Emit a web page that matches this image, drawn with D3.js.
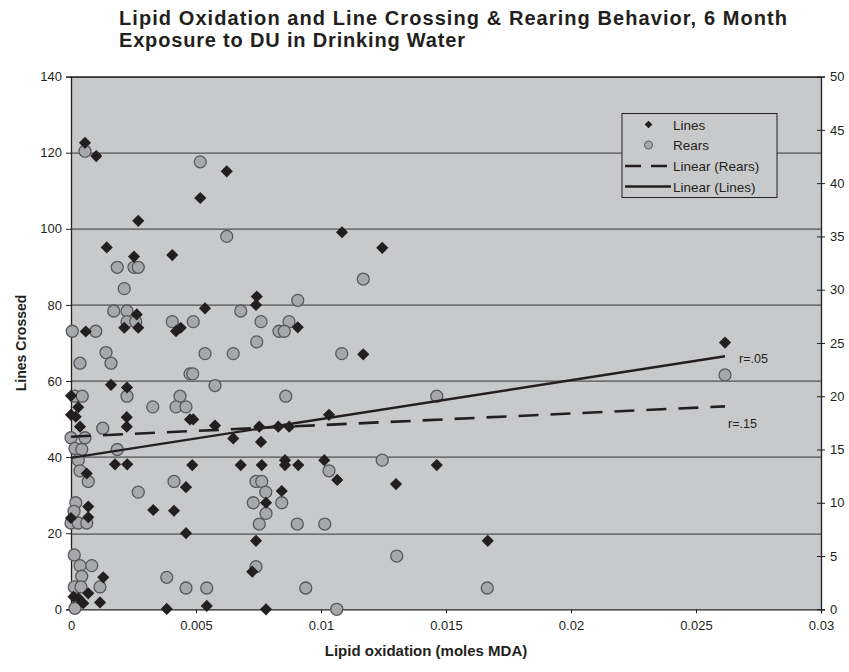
<!DOCTYPE html>
<html>
<head>
<meta charset="utf-8">
<script src="https://cdn.jsdelivr.net/npm/d3@7"></script>
<style>
  body { margin: 0; background: #fff; }
  text { font-family: "Liberation Sans", Arial, sans-serif; fill: #231f20; }
</style>
</head>
<body>
<div id="scatter"></div>
<script>
// LIPID OXIDATION vs LINES / REARS SCATTER

// 1. Data
// Lines crossed (left axis)
var linesX = [0.00056, 0.00101, 0.00269, 0.00143, 0.00252, 0.00263, 0.00213, 0.00269, 0.00059, 0.0016,
  0.00224, 0, 0.00029, 0, 0.00019, 0.00223, 0.00036, 0.00223, 0.00176, 0.00225,
  0.00063, 0.00069, 0.00329, 0.00069, 0, 0.00129, 0.00069, 0.0001, 0.0003, 0.00116,
  0.00049, 0.00383, 0.00623, 0.00517, 0.00405, 0.00743, 0.0074, 0.00536, 0.0042, 0.00439,
  0.00907, 0.00476, 0.00489, 0.00576, 0.00753, 0.00829, 0.00873, 0.00649, 0.0076, 0.00485,
  0.00679, 0.00763, 0.00856, 0.00856, 0.00909, 0.0046, 0.00843, 0.0078, 0.00412, 0.0046,
  0.0074, 0.00725, 0.00543, 0.0078, 0.01084, 0.01245, 0.01169, 0.01032, 0.01013, 0.01065,
  0.013, 0.01463, 0.01667, 0.02616];
var linesY = [122.6, 119.1, 102.1, 95.1, 92.7, 77.5, 74.0, 74.0, 73.0, 59.0,
  58.3, 56.1, 53.1, 51.1, 50.6, 50.5, 48.0, 48.0, 38.1, 38.1,
  35.7, 27.0, 26.1, 24.2, 24.0, 8.4, 4.2, 3.3, 2.9, 1.8,
  1.6, 0.1, 115.1, 108.1, 93.1, 82.2, 80.0, 79.1, 73.1, 74.0,
  74.1, 49.9, 49.9, 48.3, 48.0, 48.0, 48.0, 44.9, 44.0, 37.9,
  37.9, 37.9, 39.2, 37.9, 37.9, 32.1, 31.1, 28.0, 25.9, 20.0,
  18.0, 9.9, 0.9, 0, 99.1, 95.0, 67.0, 51.1, 39.2, 34.0,
  32.9, 37.9, 18.0, 70.1];

// Rears (right axis)
var rearsX = [0.00056, 0.00185, 0.00252, 0.00269, 0.00213, 0.00171, 0.00224, 0.00224, 0.00259, 0.00005,
  0.00099, 0.0014, 0.00036, 0.0016, 0.00224, 0.00016, 0.00045, 0.00327, 0.00127, 0,
  0.00056, 0.00185, 0.00016, 0.00043, 0.00029, 0.00036, 0.00069, 0.00269, 0.00019, 0.00012,
  0, 0.00029, 0.00063, 0.00013, 0.00036, 0.00083, 0.00043, 0.00013, 0.0004, 0.00116,
  0.00016, 0.00517, 0.00623, 0.00907, 0.00679, 0.00405, 0.00489, 0.0076, 0.00872, 0.00832,
  0.00853, 0.00743, 0.00536, 0.00649, 0.00476, 0.00487, 0.00576, 0.00859, 0.00436, 0.0042,
  0.0046, 0.00412, 0.0074, 0.00763, 0.00779, 0.00729, 0.00843, 0.0078, 0.00753, 0.00905,
  0.0074, 0.00383, 0.0046, 0.00543, 0.00939, 0.01169, 0.01083, 0.01463, 0.01245, 0.01032,
  0.01015, 0.01303, 0.01063, 0.01665, 0.02616];
var rearsY = [43.0, 32.1, 32.1, 32.1, 30.1, 28.0, 28.0, 27.0, 27.0, 26.1,
  26.1, 24.1, 23.1, 23.1, 20.0, 20.0, 20.0, 19.0, 17.0, 16.1,
  16.1, 15.0, 15.1, 15.0, 14.0, 13.0, 12.0, 11.0, 10.0, 9.2,
  8.1, 8.1, 8.1, 5.1, 4.1, 4.1, 3.1, 2.1, 2.1, 2.1,
  0.1, 42.0, 35.0, 29.0, 28.0, 27.0, 27.0, 27.0, 27.0, 26.1,
  26.1, 25.1, 24.0, 24.0, 22.1, 22.1, 21.0, 20.0, 20.0, 19.0,
  19.0, 12.0, 12.0, 12.0, 11.0, 10.0, 10.0, 9.0, 8.0, 8.0,
  4.0, 3.0, 2.0, 2.0, 2.0, 31.0, 24.0, 20.0, 14.0, 13.0,
  8.0, 5.0, 0, 2.0, 22.0];

// Excel trend line end points
var trendLinesX = [0, 0.02616];
var trendLinesY = [39.8, 66.5];
var trendRearsX = [0, 0.02616];
var trendRearsY = [16.2, 19.05];

// Tick labels
var xTicks = [0, 0.005, 0.01, 0.015, 0.02, 0.025, 0.03];
var leftTicks = [0, 20, 40, 60, 80, 100, 120, 140];
var rightTicks = [0, 5, 10, 15, 20, 25, 30, 35, 40, 45, 50];

var linesData = linesX.map((x, i) => ({ x: x, y: linesY[i] }));
var rearsData = rearsX.map((x, i) => ({ x: x, y: rearsY[i] }));

// 2. Set up the SVG area
var svgWidth = 849;
var svgHeight = 672;

var margin = {
  top: 76.6,
  right: 28,
  bottom: 62.7,
  left: 71
};

var width = svgWidth - margin.left - margin.right;
var height = svgHeight - margin.top - margin.bottom;

var svg = d3.select("#scatter")
  .append("svg")
  .attr("width", svgWidth)
  .attr("height", svgHeight);

// Title (two lines, stretched a little to the reference width)
var titleLines = ["Lipid Oxidation and Line Crossing & Rearing Behavior, 6 Month", "Exposure to DU in Drinking Water"];
var titleWidths = [668, 346];
svg.selectAll(".title")
  .data(titleLines)
  .enter()
  .append("text")
  .attr("x", 119)
  .attr("y", (d, i) => 25 + i * 22)
  .attr("font-size", "20px")
  .attr("font-weight", "bold")
  .attr("textLength", (d, i) => titleWidths[i])
  .attr("lengthAdjust", "spacing")
  .text(d => d);

var chartGroup = svg.append("g")
  .attr("transform", `translate(${margin.left}, ${margin.top})`);

// Scales
var xScale = d3.scaleLinear().domain([0, 0.03]).range([0, width]);
var yLeft = d3.scaleLinear().domain([0, 140]).range([height, 0]);
var yRight = d3.scaleLinear().domain([0, 50]).range([height, 0]);

// Plot background
chartGroup.append("rect")
  .attr("width", width)
  .attr("height", height)
  .attr("fill", "#c8c9cb");

// Gridlines
chartGroup.selectAll(".grid")
  .data(leftTicks.slice(1))
  .enter()
  .append("line")
  .attr("x1", 0)
  .attr("x2", width)
  .attr("y1", d => Math.round(yLeft(d)) + 0.5)
  .attr("y2", d => Math.round(yLeft(d)) + 0.5)
  .attr("stroke", "#333")
  .attr("stroke-width", 1);

// Axes
var bottomAxis = d3.axisBottom(xScale).tickValues(xTicks).tickSize(4).tickFormat(d => d3.format("")(+d.toFixed(3)));
var leftAxis = d3.axisLeft(yLeft).tickValues(leftTicks).tickSize(5);
var rightAxis = d3.axisRight(yRight).tickValues(rightTicks).tickSize(4);

var xAxis = chartGroup.append("g")
  .attr("transform", `translate(0, ${height})`)
  .call(bottomAxis);
xAxis.selectAll("text").attr("dy", 14);

var yAxisL = chartGroup.append("g").call(leftAxis);
yAxisL.selectAll("text").attr("dx", -1);

var yAxisR = chartGroup.append("g")
  .attr("transform", `translate(${width}, 0)`)
  .call(rightAxis);
yAxisR.selectAll(".tick line").attr("x1", -4);
yAxisR.selectAll("text").attr("x", 9);

[xAxis, yAxisL, yAxisR].forEach(function (ax) {
  ax.select(".domain").attr("stroke", "#231f20").attr("stroke-width", 1.3);
  ax.selectAll(".tick line").attr("stroke", "#231f20");
  ax.selectAll("text")
    .attr("font-size", "13px")
    .attr("font-family", "Liberation Sans, Arial, sans-serif")
    .attr("fill", "#231f20");
});

// Top border
chartGroup.append("line")
  .attr("x1", 0).attr("x2", width)
  .attr("y1", 0.5).attr("y2", 0.5)
  .attr("stroke", "#231f20").attr("stroke-width", 1.3);

// Rears circles
chartGroup.selectAll(".rear")
  .data(rearsData)
  .enter()
  .append("circle")
  .attr("cx", d => xScale(d.x))
  .attr("cy", d => yRight(d.y))
  .attr("r", 6)
  .attr("fill", "#a6a8ab")
  .attr("stroke", "#58595b")
  .attr("stroke-width", 1.3);

// Lines diamonds
var diamond = d3.symbol().type(d3.symbolSquare).size(74);
chartGroup.selectAll(".line-pt")
  .data(linesData)
  .enter()
  .append("path")
  .attr("d", diamond)
  .attr("transform", d => `translate(${xScale(d.x)}, ${yLeft(d.y)}) rotate(45)`)
  .attr("fill", "#231f20");

// Trend lines
chartGroup.append("line")
  .attr("x1", xScale(trendRearsX[0])).attr("y1", yRight(trendRearsY[0]))
  .attr("x2", xScale(trendRearsX[1])).attr("y2", yRight(trendRearsY[1]))
  .attr("stroke", "#231f20").attr("stroke-width", 2.6)
  .attr("stroke-dasharray", "20,12");

chartGroup.append("line")
  .attr("x1", xScale(trendLinesX[0])).attr("y1", yLeft(trendLinesY[0]))
  .attr("x2", xScale(trendLinesX[1])).attr("y2", yLeft(trendLinesY[1]))
  .attr("stroke", "#231f20").attr("stroke-width", 2.4);

// r labels
svg.append("text").attr("x", 739).attr("y", 363).attr("font-size", "12.5px").text("r=.05");
svg.append("text").attr("x", 728).attr("y", 428).attr("font-size", "12.5px").text("r=.15");

// Axis titles
svg.append("text")
  .attr("transform", `translate(26, ${margin.top + height / 2}) rotate(-90)`)
  .attr("text-anchor", "middle")
  .attr("font-size", "14px")
  .attr("font-weight", "bold")
  .text("Lines Crossed");

svg.append("text")
  .attr("x", margin.left + width / 2 - 20)
  .attr("y", 656)
  .attr("text-anchor", "middle")
  .attr("font-size", "15px")
  .attr("font-weight", "bold")
  .text("Lipid oxidation (moles MDA)");

// Legend
var legend = svg.append("g").attr("transform", "translate(622, 113.5)");
legend.append("rect")
  .attr("width", 155)
  .attr("height", 84)
  .attr("fill", "#c8c9cb")
  .attr("stroke", "#231f20")
  .attr("stroke-width", 1);

legend.append("path")
  .attr("d", d3.symbol().type(d3.symbolSquare).size(30))
  .attr("transform", "translate(26.5, 11) rotate(45)")
  .attr("fill", "#231f20");
legend.append("circle")
  .attr("cx", 26.5).attr("cy", 31.5).attr("r", 4)
  .attr("fill", "#a6a8ab").attr("stroke", "#58595b").attr("stroke-width", 1);
legend.append("line")
  .attr("x1", 3).attr("x2", 49).attr("y1", 52.5).attr("y2", 52.5)
  .attr("stroke", "#231f20").attr("stroke-width", 2.6)
  .attr("stroke-dasharray", "16,10");
legend.append("line")
  .attr("x1", 3).attr("x2", 49).attr("y1", 73).attr("y2", 73)
  .attr("stroke", "#231f20").attr("stroke-width", 2.4);

var legendLabels = ["Lines", "Rears", "Linear (Rears)", "Linear (Lines)"];
legend.selectAll(".lg-text")
  .data(legendLabels)
  .enter()
  .append("text")
  .attr("x", 51)
  .attr("y", (d, i) => 16 + i * 20.7)
  .attr("font-size", "13.5px")
  .text(d => d);
</script>
</body>
</html>
